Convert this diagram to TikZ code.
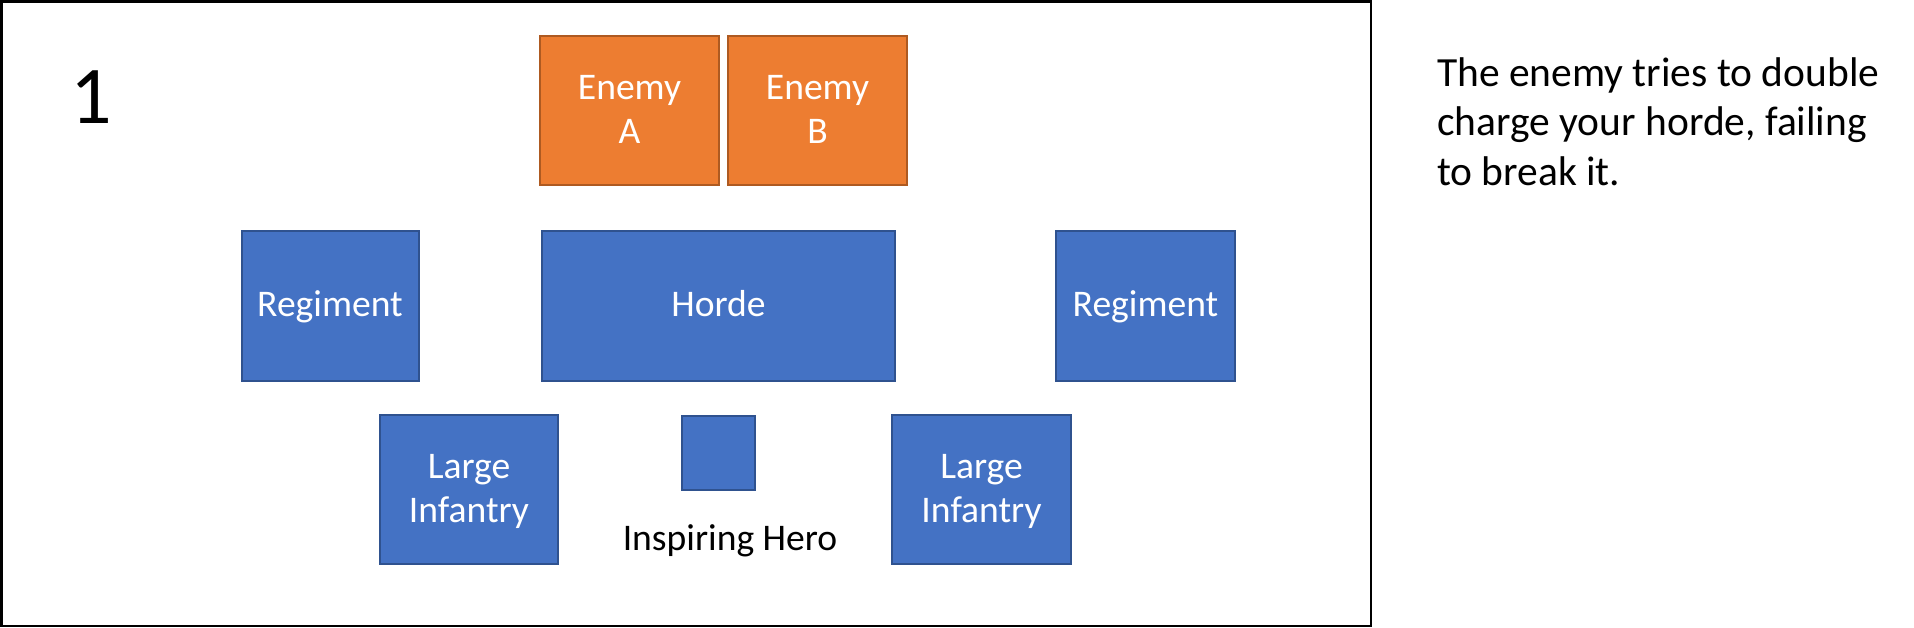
\documentclass[tikz,border=0pt]{standalone}
\usepackage{fontspec}
\setmainfont{Carlito}
\definecolor{orgfill}{HTML}{ED7D31}
\definecolor{orgline}{HTML}{AE5A21}
\definecolor{bluefill}{HTML}{4472C4}
\definecolor{blueline}{HTML}{2F528F}
\newcommand{\mytop}{\rule{0pt}{31pt}}
\newcommand{\mybot}{\rule[-10pt]{0pt}{10pt}}
\begin{document}
\begin{tikzpicture}[x=1pt,y=-1pt,
  unitbox/.style={draw=blueline,fill=bluefill,line width=2pt,inner sep=0pt,
    text=white,align=center,font=\fontsize{37.6}{44}\selectfont},
  enemybox/.style={unitbox,draw=orgline,fill=orgfill},
  plain/.style={inner sep=0pt,text=black}]
\useasboundingbox (0,0) rectangle (1914,627);
\draw[line width=2.5pt] (1.25,1.25) rectangle (1371,625.75);
\node[plain,anchor=base west,font=\fontsize{82}{98}\selectfont] (num) at (70,123) {1};
% enemies
\node[enemybox,minimum width=179pt,minimum height=149pt] (ea) at (629.5,110.5) {\mytop Enemy\\A\mybot};
\node[enemybox,minimum width=179pt,minimum height=149pt] (eb) at (817.5,110.5) {\mytop Enemy\\B\mybot};
% main line
\node[unitbox,minimum width=177pt,minimum height=150pt] (rl) at (330,306) {\mytop Regiment\mybot};
\node[unitbox,minimum width=353pt,minimum height=150pt] (horde) at (718.5,306) {\mytop Horde\mybot};
\node[unitbox,minimum width=179pt,minimum height=150pt] (rr) at (1145.5,306) {\mytop Regiment\mybot};
% rear
\node[unitbox,minimum width=178pt,minimum height=149pt] (lil) at (469,489.5) {\mytop Large\\Infantry\mybot};
\node[unitbox,minimum width=73pt,minimum height=74pt] (hero) at (718.5,453) {};
\node[unitbox,minimum width=179pt,minimum height=149pt] (lir) at (981.5,489.5) {\mytop Large\\Infantry\mybot};
\node[plain,anchor=base,font=\fontsize{37.6}{46}\selectfont] (herolabel) at (730,550) {Inspiring Hero};
% caption
\node[plain,anchor=base west,font=\fontsize{41.5}{50}\selectfont] (cap1) at (1437,86) {The enemy tries to double};
\node[plain,anchor=base west,font=\fontsize{41.5}{50}\selectfont] (cap2) at (1437,135.5) {charge your horde, failing};
\node[plain,anchor=base west,font=\fontsize{41.5}{50}\selectfont] (cap3) at (1437,185) {to break it.};
\end{tikzpicture}
\end{document}
